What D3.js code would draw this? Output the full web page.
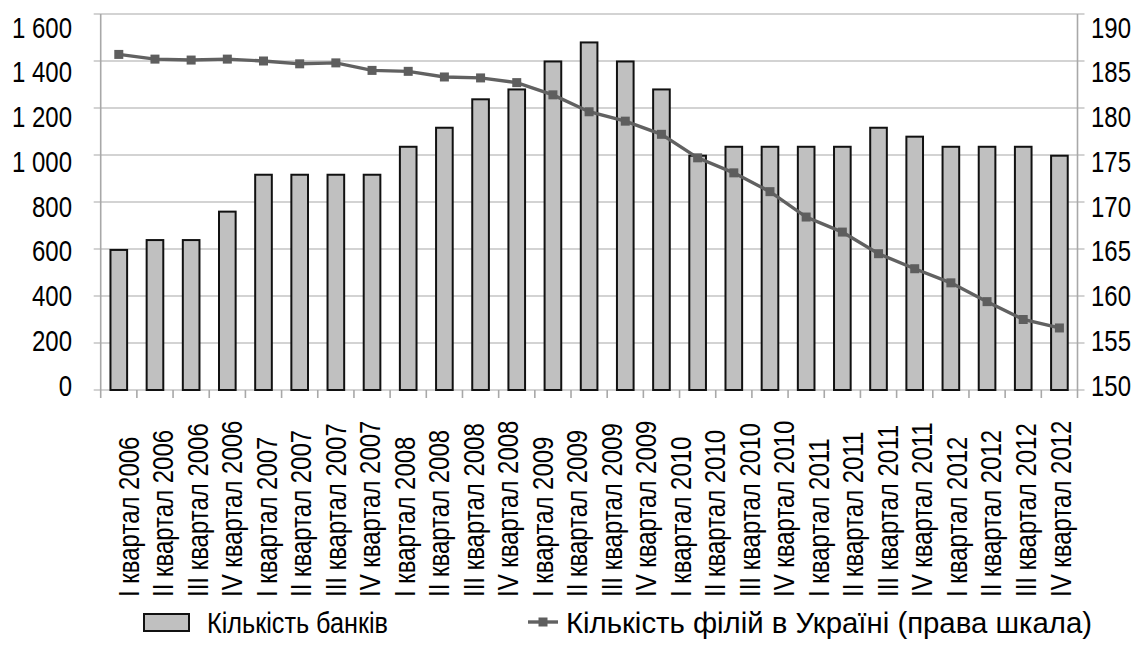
<html>
<head>
    <meta charset="utf-8">
    <script src="https://cdn.jsdelivr.net/npm/d3@7/dist/d3.min.js"></script>
    <style>
        body { margin: 0; background: #fff; }
        text { font-family: "Liberation Sans Narrow", "Arial Narrow", "Liberation Sans", Arial, sans-serif; fill: #000; }
    </style>
</head>
<body>
    <svg id="CANVAS" width="1140" height="651"></svg>
    <script>
        // categories on the axis (the picture shows 28 labels for 27 points)
        var categories = [
            "I квартал 2006", "II квартал 2006", "III квартал 2006", "IV квартал 2006",
            "I квартал 2007", "II квартал 2007", "III квартал 2007", "IV квартал 2007",
            "I квартал 2008", "II квартал 2008", "III квартал 2008", "IV квартал 2008",
            "I квартал 2009", "II квартал 2009", "III квартал 2009", "IV квартал 2009",
            "I квартал 2010", "II квартал 2010", "III квартал 2010", "IV квартал 2010",
            "I квартал 2011", "II квартал 2011", "III квартал 2011", "IV квартал 2011",
            "I квартал 2012", "II квартал 2012", "III квартал 2012", "IV квартал 2012"
        ];
        // Кількість банків (left scale)
        var banks = [596, 638, 638, 759, 916, 916, 916, 916, 1035, 1116, 1237, 1279, 1398, 1479,
            1398, 1279, 997, 1035, 1035, 1035, 1035, 1116, 1078, 1035, 1035, 1035, 997];
        // Кількість філій в Україні (right scale)
        var branches = [185.7, 185.2, 185.1, 185.2, 185.0, 184.7, 184.8, 184.0, 183.9, 183.3, 183.2,
            182.7, 181.4, 179.6, 178.6, 177.2, 174.7, 173.1, 171.1, 168.4, 166.8, 164.5, 162.9,
            161.4, 159.4, 157.5, 156.6];
        var leftTicks = [0, 200, 400, 600, 800, 1000, 1200, 1400, 1600];
        var rightTicks = [150, 155, 160, 165, 170, 175, 180, 185, 190];
        var legendNames = ["Кількість банків", "Кількість філій в Україні (права шкала)"];

        var L = 100.7, R = 1077.5, T = 14, B = 390;
        var FS = 30;
        var fmt = d3.formatLocale({ decimal: ",", thousands: "\u00a0", grouping: [3], currency: ["", ""] }).format(",d");

        var svg = d3.select("#CANVAS");

        var x = d3.scaleBand().domain(d3.range(banks.length)).range([L, R]).paddingInner(0).paddingOuter(0);
        var xLab = d3.scalePoint().domain(categories).range([128, 1060]);
        var y = d3.scaleLinear().domain([0, 1600]).range([B, T]);
        var y2 = d3.scaleLinear().domain([150, 190]).range([B, T]);
        // tick labels in the picture sit slightly inside the grid span
        var yLab = d3.scaleLinear().domain([0, 1600]).range([385, 27]);
        var y2Lab = d3.scaleLinear().domain([150, 190]).range([385, 27]);

        // gridlines
        svg.append("g").selectAll("line").data(leftTicks).enter().append("line")
            .attr("x1", L - 7).attr("x2", R + 7)
            .attr("y1", function (d) { return y(d); }).attr("y2", function (d) { return y(d); })
            .attr("stroke", "#c4c4c4").attr("stroke-width", 1.6);

        // axis lines
        svg.append("line").attr("x1", L).attr("x2", L).attr("y1", T).attr("y2", B)
            .attr("stroke", "#a8a8a8").attr("stroke-width", 1.6);
        svg.append("line").attr("x1", R).attr("x2", R).attr("y1", T).attr("y2", B)
            .attr("stroke", "#a8a8a8").attr("stroke-width", 1.6);

        // category ticks
        var bounds = d3.range(banks.length + 1).map(function (i) { return L + i * x.step(); });
        svg.append("g").selectAll("line").data(bounds).enter().append("line")
            .attr("x1", function (d) { return d; }).attr("x2", function (d) { return d; })
            .attr("y1", B).attr("y2", B + 8)
            .attr("stroke", "#a8a8a8").attr("stroke-width", 1.6);

        // bars
        var bw = x.bandwidth() * 0.46;
        svg.append("g").selectAll("rect").data(banks).enter().append("rect")
            .attr("x", function (d, i) { return x(i) + x.bandwidth() / 2 - bw / 2; })
            .attr("y", function (d) { return y(d); })
            .attr("width", bw)
            .attr("height", function (d) { return B - y(d); })
            .attr("fill", "#c0c0c0").attr("stroke", "#111").attr("stroke-width", 2);

        // line series
        var line = d3.line()
            .x(function (d, i) { return x(i) + x.bandwidth() / 2; })
            .y(function (d) { return y2(d); });
        svg.append("path").datum(branches).attr("d", line)
            .attr("fill", "none").attr("stroke", "#616161").attr("stroke-width", 3.4);
        svg.append("g").selectAll("rect").data(branches).enter().append("rect")
            .attr("x", function (d, i) { return x(i) + x.bandwidth() / 2 - 4.5; })
            .attr("y", function (d) { return y2(d) - 4.5; })
            .attr("width", 9).attr("height", 9)
            .attr("fill", "#5e5e5e");

        // axis labels
        var texts = svg.append("g").attr("class", "LABELS");
        texts.selectAll("text.L").data(leftTicks).enter().append("text").attr("class", "L")
            .attr("x", 72).attr("y", function (d) { return yLab(d); }).attr("dy", "0.35em")
            .attr("text-anchor", "end").style("font-size", FS + "px")
            .text(function (d) { return fmt(d); });
        texts.selectAll("text.R").data(rightTicks).enter().append("text").attr("class", "R")
            .attr("x", 1091).attr("y", function (d) { return y2Lab(d); }).attr("dy", "0.35em")
            .attr("text-anchor", "start").style("font-size", FS + "px")
            .text(function (d) { return d; });
        texts.selectAll("text.X").data(categories).enter().append("text").attr("class", "X")
            .attr("transform", function (d) { return "translate(" + xLab(d) + ",597) rotate(-90)"; })
            .attr("dy", "0.35em").attr("text-anchor", "start").style("font-size", FS + "px")
            .text(function (d) { return d; });

        // squeeze text if the narrow face is not there ("1 600" is ~60px wide in the picture)
        var lefts = texts.selectAll("text.L").nodes();
        var w = lefts[lefts.length - 1].getComputedTextLength();
        var sx = 60 / w;
        if (sx < 0.95) {
            texts.selectAll("text").each(function () {
                var n = this.getComputedTextLength();
                d3.select(this).attr("textLength", n * sx).attr("lengthAdjust", "spacingAndGlyphs");
            });
        }

        // legend
        var lg = svg.append("g");
        lg.append("rect").attr("x", 144).attr("y", 614).attr("width", 45).attr("height", 17)
            .attr("fill", "#c0c0c0").attr("stroke", "#111").attr("stroke-width", 2);
        lg.append("line").attr("x1", 528).attr("x2", 558).attr("y1", 622).attr("y2", 622)
            .attr("stroke", "#616161").attr("stroke-width", 3.4);
        lg.append("rect").attr("x", 538.5).attr("y", 617.5).attr("width", 9).attr("height", 9).attr("fill", "#5e5e5e");
        var legendX = [207, 566], legendW = [181, 526];
        lg.selectAll("text").data(legendNames).enter().append("text")
            .attr("x", function (d, i) { return legendX[i]; }).attr("y", 622).attr("dy", "0.35em")
            .style("font-size", FS + "px")
            .attr("textLength", function (d, i) { return legendW[i]; })
            .attr("lengthAdjust", "spacingAndGlyphs")
            .text(function (d) { return d; });
    </script>
</body>
</html>
